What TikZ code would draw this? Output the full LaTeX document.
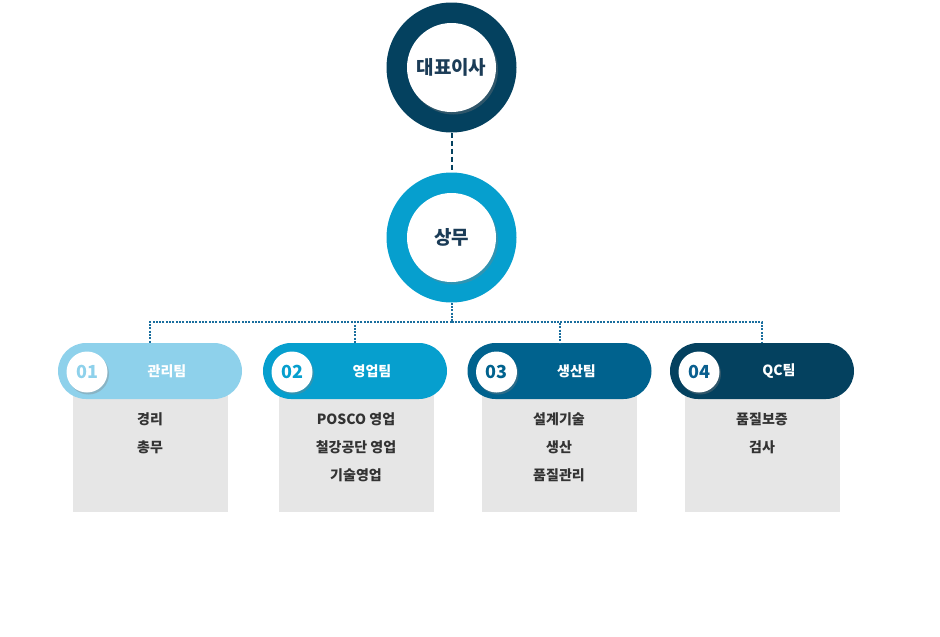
\documentclass[tikz,border=0pt]{standalone}
\usepackage{fontspec}
\setmainfont{Noto Sans CJK KR}
\usetikzlibrary{shadows}
\definecolor{navy}{HTML}{04415F}
\definecolor{cyanc}{HTML}{069FCE}
\definecolor{lightc}{HTML}{8ED1EB}
\definecolor{midc}{HTML}{00628E}
\definecolor{numfour}{HTML}{0A5F8F}
\definecolor{dotc}{HTML}{1A6E9E}
\definecolor{grayc}{HTML}{E6E6E6}
\definecolor{txtc}{HTML}{333333}
\definecolor{headc}{HTML}{1B3C57}
\tikzset{
  ring/.style={circle, minimum size=130pt, inner sep=0pt},
  core/.style={circle, fill=white, minimum size=89pt, inner sep=0pt, text=headc,
    font=\fontsize{19}{22}\selectfont\bfseries,
    drop shadow={shadow xshift=2pt, shadow yshift=-2.5pt, opacity=0.35}},
  pill/.style={rectangle, rounded corners=28pt, minimum width=184pt, minimum height=56pt, inner sep=0pt},
  numc/.style={circle, fill=white, minimum size=41pt, inner sep=0pt,
    font=\fontsize{18}{20}\selectfont\bfseries,
    drop shadow={shadow xshift=1.5pt, shadow yshift=-2pt, opacity=0.35}},
  ptitle/.style={text=white, font=\fontsize{14}{16}\selectfont\bfseries},
  graybox/.style={rectangle, fill=grayc, minimum width=155pt, minimum height=140pt, inner sep=0pt},
  item/.style={text=txtc, font=\fontsize{14}{16}\selectfont\bfseries},
  dashline/.style={draw=navy, line width=2pt, dash pattern=on 5pt off 3pt},
  dotline/.style={draw=dotc, line width=2pt, dash pattern=on 2pt off 1.3pt},
}
\begin{document}
\begin{tikzpicture}[x=1pt,y=-1pt]
\useasboundingbox (0,0) rectangle (940,637);
% top circles
\node[ring, fill=navy] (r1) at (451.5,67.5) {};
\node[core] (c1) at (451.5,67.5) {대표이사};
\node[ring, fill=cyanc] (r2) at (451.5,237.5) {};
\node[core] (c2) at (451.5,237.5) {상무};
\coordinate (j) at (451.5,322);
% connectors
\draw[dashline] (r1.south) -- (r2.north);
\draw[dotline] (r2.south) -- (j);
% gray boxes
\node[graybox] (b1) at (150.5,442) {};
\node[graybox] (b2) at (356,442) {};
\node[graybox] (b3) at (559,442) {};
\node[graybox] (b4) at (762,442) {};
% pills
\node[pill, fill=lightc] (p1) at (150,371) {};
\node[pill, fill=cyanc] (p2) at (355,371) {};
\node[pill, fill=midc] (p3) at (559.5,371) {};
\node[pill, fill=navy] (p4) at (762,371) {};
\draw[dotline] (j) -| (p1.north);
\draw[dotline] (j) -| (p2.north);
\draw[dotline] (j) -| (p3.north);
\draw[dotline] (j) -| (p4.north);
% number circles
\node[numc, text=lightc] (n1) at ([xshift=-63pt,yshift=-1pt]p1.center) {01};
\node[numc, text=cyanc] (n2) at ([xshift=-63pt,yshift=-1pt]p2.center) {02};
\node[numc, text=midc] (n3) at ([xshift=-63pt,yshift=-1pt]p3.center) {03};
\node[numc, text=numfour] (n4) at ([xshift=-63pt,yshift=-1pt]p4.center) {04};
% titles
\node[ptitle] (t1) at ([xshift=17pt]p1.center) {관리팀};
\node[ptitle] (t2) at ([xshift=17pt]p2.center) {영업팀};
\node[ptitle] (t3) at ([xshift=17pt]p3.center) {생산팀};
\node[ptitle] (t4) at ([xshift=17pt]p4.center) {QC팀};
% items
\node[item] (i11) at (150,419) {경리};
\node[item] (i12) at (150,447) {총무};
\node[item] (i21) at (356,419) {POSCO 영업};
\node[item] (i22) at (356,447) {철강공단 영업};
\node[item] (i23) at (356,475) {기술영업};
\node[item] (i31) at (559,419) {설계기술};
\node[item] (i32) at (559,447) {생산};
\node[item] (i33) at (559,475) {품질관리};
\node[item] (i41) at (762,419) {품질보증};
\node[item] (i42) at (762,447) {검사};
\end{tikzpicture}
\end{document}
